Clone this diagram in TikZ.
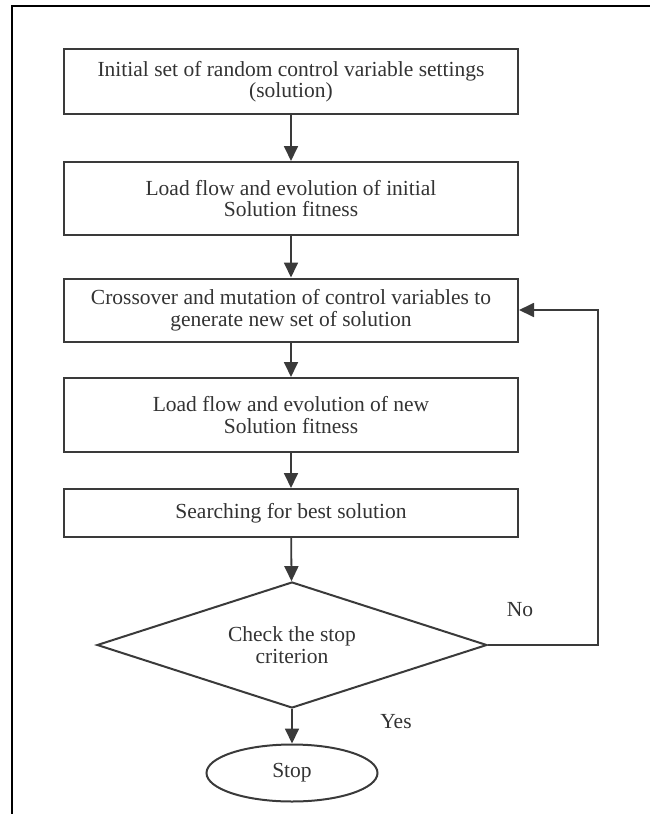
\documentclass[tikz,border=0pt]{standalone}
\usepackage{fontspec}
\setmainfont{Liberation Serif}
\usetikzlibrary{shapes.geometric,arrows.meta}
\definecolor{ink}{HTML}{333333}
\definecolor{edge}{HTML}{3A3A3A}
\tikzset{
  txt/.style={text=ink, font=\fontsize{21.5}{21.5}\selectfont},
  box/.style={txt, draw=edge, line width=2pt, rectangle, minimum width=454pt, inner sep=0pt, align=center},
  flow/.style={draw=edge, line width=1.8pt, -{Triangle[length=15pt,width=14pt]}},
}
\begin{document}
\begin{tikzpicture}[x=1pt,y=-1pt]
\useasboundingbox (0,0) rectangle (650,814);
\draw[black, line width=2.8pt] (12,814) -- (12,6) -- (650,6);
\node[box, minimum height=65pt] (b1) at (291,81.5) {Initial set of random control variable settings\\(solution)};
\node[box, minimum height=73pt] (b2) at (291,198.5) {Load flow and evolution of initial\\Solution fitness};
\node[box, minimum height=63pt] (b3) at (291,310) {Crossover and mutation of control variables to\\generate new set of solution};
\node[box, minimum height=74pt] (b4) at (291,415) {Load flow and evolution of new\\Solution fitness};
\node[box, minimum height=48pt] (b5) at (291,513) {Searching for best solution};
\node[txt, draw=edge, line width=2pt, diamond, minimum width=390pt, minimum height=126pt, inner sep=0pt, shape aspect=3.1, align=center] (d) at (292,645) {Check the stop\\criterion};
\node[txt, draw=edge, line width=2pt, ellipse, minimum width=171pt, minimum height=57pt, inner sep=0pt] (s) at (292,773) {Stop};
\coordinate (c1) at (598,645);
\coordinate (c2) at (598,310);
\draw[flow] (b1) -- (b2);
\draw[flow] (b2) -- (b3);
\draw[flow] (b3) -- (b4);
\draw[flow] (b4) -- (b5);
\draw[flow] (b5) -- (d);
\draw[flow] (d) -- (s);
\draw[flow] (d.east) -- (c1) -- (c2) -- (b3.east);
\node[txt] (no) at (520,610) {No};
\node[txt] (yes) at (396,722) {Yes};
\end{tikzpicture}
\end{document}
